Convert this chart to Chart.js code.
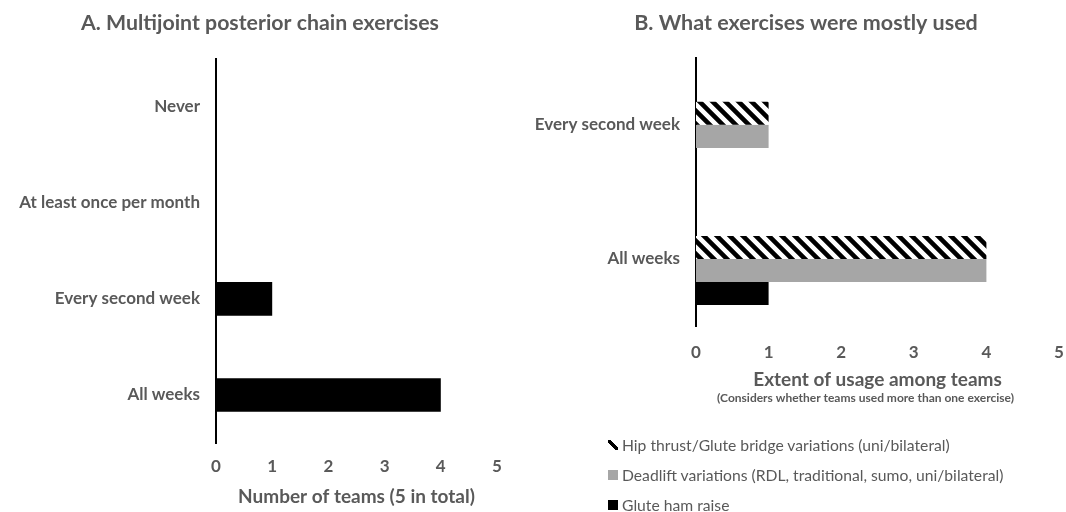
<!DOCTYPE html>
<html>
<head>
<meta charset="utf-8">
<script src="https://cdn.jsdelivr.net/npm/chart.js@4.4.1/dist/chart.umd.min.js"></script>
<style>
  html, body { margin: 0; padding: 0; background: #fff; overflow: hidden; }
  #wrap { position: relative; width: 1066px; height: 512px; overflow: hidden; background: #fff; }
  #cA { position: absolute; left: 0; top: 0; }
  #cB { position: absolute; left: 520px; top: 0; }
  #legend { position: absolute; left: 608px; top: 430px; font-family: Lato, "Open Sans", sans-serif; font-size: 15.7px; color: #595959; }
  .item { display: flex; align-items: center; height: 30px; white-space: nowrap; }
  .sw { width: 10px; height: 10px; margin-right: 4px; flex: none; }
</style>
</head>
<body>
<div id="wrap">
  <canvas id="cA" width="540" height="512"></canvas>
  <canvas id="cB" width="563" height="512"></canvas>
  <div id="legend"></div>
</div>
<script>
// ---------- data ----------
const freqCategories = ['Never', 'At least once per month', 'Every second week', 'All weeks'];
const teamCounts = [0, 0, 1, 4];

const usageCategories = ['Every second week', 'All weeks'];
const hipThrust = [1, 4];
const deadlift = [1, 4];
const gluteHam = [0, 1];
const emptySlot = [null, null];

const xMin = 0;
const xMax = 5;
const xStep = 1;

const titleA = 'A. Multijoint posterior chain exercises';
const titleB = 'B. What exercises were mostly used';
const xTitleA = 'Number of teams (5 in total)';
const xTitleB = 'Extent of usage among teams';
const xSubB = '(Considers whether teams used more than one exercise)';
const seriesNames = ['Hip thrust/Glute bridge variations (uni/bilateral)', 'Deadlift variations (RDL, traditional, sumo, uni/bilateral)', 'Glute ham raise'];

// ---------- styles ----------
const FONT = 'Lato, "Open Sans", sans-serif';
const GREY = '#595959';

function hatchPattern() {
  const s = 13;
  const c = document.createElement('canvas');
  c.width = s; c.height = s;
  const g = c.getContext('2d');
  g.fillStyle = '#fff'; g.fillRect(0, 0, s, s);
  g.strokeStyle = '#000'; g.lineWidth = 4.6;
  g.beginPath();
  g.moveTo(-4, -4); g.lineTo(s + 4, s + 4);
  g.moveTo(-4, s - 4); g.lineTo(4, s + 4);
  g.moveTo(s - 4, -4); g.lineTo(s + 4, 4);
  g.stroke();
  return g.createPattern(c, 'repeat');
}

function yScale(width) {
  return {
    grid: { display: false, drawTicks: false },
    border: { display: true, color: '#000', width: 2 },
    ticks: { color: GREY, padding: 16, font: { family: FONT, size: 17, weight: 'bold' } },
    afterFit: s => { s.width = width; }
  };
}

function spacerScale(width) {
  return {
    type: 'category',
    position: 'right',
    grid: { display: false, drawTicks: false },
    border: { display: false },
    ticks: { display: false },
    afterFit: s => { s.width = width; }
  };
}

function xScale(height, title, titlePadBottom, tickPad) {
  return {
    min: xMin, max: xMax,
    grid: { display: false, drawTicks: false },
    border: { display: false },
    ticks: { stepSize: xStep, color: GREY, padding: tickPad, font: { family: FONT, size: 17, weight: 'bold' } },
    title: { display: true, text: title, color: GREY, padding: { top: 0, bottom: titlePadBottom }, font: { family: FONT, size: 19, weight: 'bold' } },
    afterFit: s => { s.height = height; }
  };
}

Chart.defaults.font.family = FONT;

// ---------- chart A ----------
new Chart(document.getElementById('cA'), {
  type: 'bar',
  data: {
    labels: freqCategories,
    datasets: [{ label: 'Teams', data: teamCounts, backgroundColor: '#000', borderWidth: 0, barPercentage: 1, categoryPercentage: 0.35 }]
  },
  options: {
    indexAxis: 'y',
    responsive: false,
    animation: false,
    layout: { padding: { left: 5, right: 25, top: 0, bottom: 0 } },
    plugins: {
      legend: { display: false },
      tooltip: { enabled: false },
      title: { display: true, text: titleA, color: GREY, font: { family: FONT, size: 21.3, weight: 'bold' }, padding: { top: 10, bottom: 23 } }
    },
    scales: {
      y: yScale(211),
      yRight: spacerScale(18),
      x: xScale(69, xTitleA, 3.6, 13.5)
    }
  }
});

// ---------- chart B ----------
const hatch = hatchPattern();
const subtitlePlugin = {
  id: 'axisSubtitle',
  afterDraw(chart) {
    const ctx = chart.ctx;
    const a = chart.chartArea;
    ctx.save();
    ctx.fillStyle = GREY;
    ctx.font = 'bold 12px ' + FONT;
    ctx.textAlign = 'center';
    ctx.textBaseline = 'middle';
    ctx.fillText(xSubB, (a.left + a.right) / 2 - 12, 398);
    ctx.restore();
  }
};

const chartB = new Chart(document.getElementById('cB'), {
  type: 'bar',
  data: {
    labels: usageCategories,
    datasets: [
      { label: '', data: emptySlot, backgroundColor: 'rgba(0,0,0,0)', borderWidth: 0, barPercentage: 1, categoryPercentage: 0.687 },
      { label: seriesNames[0], data: hipThrust, backgroundColor: hatch, swatch: 'linear-gradient(45deg, transparent 36%, #000 36%, #000 64%, transparent 64%)', borderWidth: 0, barPercentage: 1, categoryPercentage: 0.687 },
      { label: seriesNames[1], data: deadlift, backgroundColor: '#A6A6A6', swatch: '#A6A6A6', borderWidth: 0, barPercentage: 1, categoryPercentage: 0.687 },
      { label: seriesNames[2], data: gluteHam, backgroundColor: '#000', swatch: '#000', borderWidth: 0, barPercentage: 1, categoryPercentage: 0.687 }
    ]
  },
  options: {
    indexAxis: 'y',
    responsive: false,
    animation: false,
    layout: { padding: { left: 9, right: 0, top: 0, bottom: 102 } },
    plugins: {
      legend: { display: false },
      tooltip: { enabled: false },
      title: { display: true, text: titleB, color: GREY, font: { family: FONT, size: 21.5, weight: 'bold' }, padding: { top: 10, bottom: 22 } }
    },
    scales: {
      y: yScale(167),
      yRight: spacerScale(24),
      x: xScale(84, xTitleB, 18.6, 16.5)
    }
  },
  plugins: [subtitlePlugin]
});

// ---------- HTML legend ----------
const leg = document.getElementById('legend');
chartB.data.datasets.filter(d => d.label).forEach(d => {
  const it = document.createElement('div');
  it.className = 'item';
  const sw = document.createElement('span');
  sw.className = 'sw';
  sw.style.background = d.swatch;
  const tx = document.createElement('span');
  tx.textContent = d.label;
  it.appendChild(sw); it.appendChild(tx);
  leg.appendChild(it);
});
</script>
</body>
</html>
